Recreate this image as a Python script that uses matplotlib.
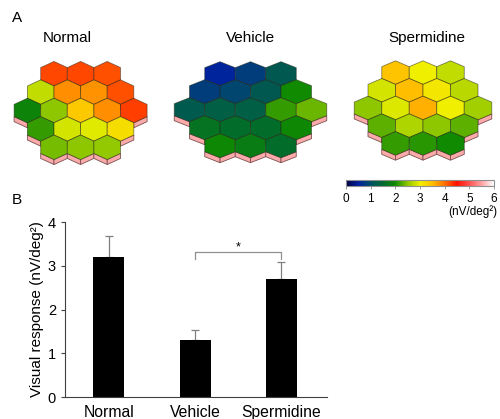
import numpy as np
import matplotlib
matplotlib.use('Agg')
import matplotlib.pyplot as plt
from matplotlib.colors import LinearSegmentedColormap, Normalize
from matplotlib.cm import ScalarMappable
from matplotlib.patches import Polygon

plt.rcParams['font.family'] = ['Liberation Sans', 'DejaVu Sans']

# mfERG response density per hexagon (nV/deg^2), rows top -> bottom
groups = ['Normal', 'Vehicle', 'Spermidine']
hex_normal = [[4.2, 4.2, 4.15],
              [2.75, 3.8, 3.78, 4.15],
              [1.9, 2.5, 3.4, 3.8, 4.25],
              [2.15, 2.85, 2.92, 3.2],
              [2.4, 2.5, 2.52]]
hex_vehicle = [[0.55, 0.8, 1.15],
               [0.8, 0.9, 1.15, 2.0],
               [1.2, 1.3, 1.3, 2.15, 2.35],
               [1.65, 1.55, 1.55, 1.95],
               [1.95, 1.8, 1.55]]
hex_sperm = [[3.45, 3.0, 2.75],
             [2.85, 3.5, 3.1, 2.7],
             [2.5, 2.9, 3.6, 3.0, 2.6],
             [2.3, 2.65, 2.5, 2.3],
             [2.15, 2.1, 2.0]]

# panel B
bar_means = [3.2, 1.3, 2.7]
bar_sem = [0.49, 0.23, 0.38]

cmap = LinearSegmentedColormap.from_list('mferg', [
    (0 / 6, '#000040'), (0.5 / 6, '#0020a0'), (1.0 / 6, '#005060'),
    (1.5 / 6, '#006a30'), (2.0 / 6, '#108a00'), (2.5 / 6, '#90c800'),
    (3.0 / 6, '#f0f000'), (3.5 / 6, '#ffc000'), (4.0 / 6, '#ff7000'),
    (4.5 / 6, '#ff1000'), (5.0 / 6, '#ff5050'), (5.5 / 6, '#ffa0a0'),
    (6 / 6, '#ffffff')])
norm = Normalize(0, 6)

W, H = 500, 419
fig = plt.figure(figsize=(W / 100, H / 100), dpi=100)


def hex_map(values, cx, cy, w, s, depth=5.0):
    # axes in hex units: 1 x-unit = hex width (w px), 1 y-unit = row pitch (s px)
    R, T, B = 3.0, 3.0, 3.4
    ax = fig.add_axes([(cx - R * w) / W, 1 - (cy + B * s) / H,
                       2 * R * w / W, (T + B) * s / H])
    ax.set_xlim(-R, R)
    ax.set_ylim(-B, T)
    ax.axis('off')
    e, h, d = 1 / 3, 2 / 3, depth / s
    for r, row in enumerate(values):
        n = len(row)
        y = 2 - r
        for c, v in enumerate(row):
            x = c - (n - 1) / 2
            for sx in (-0.5, 0.5):
                side = [(x + sx, y - e), (x, y - h), (x, y - h - d), (x + sx, y - e - d)]
                ax.add_patch(Polygon(side, closed=True, fc='#fbaaaa',
                                     ec='#7a5050', lw=0.6))
            top = [(x, y + h), (x + 0.5, y + e), (x + 0.5, y - e),
                   (x, y - h), (x - 0.5, y - e), (x - 0.5, y + e)]
            ax.add_patch(Polygon(top, closed=True, fc=cmap(norm(v)),
                                 ec=(0.15, 0.15, 0.1, 0.55), lw=0.6))
    return ax


hex_map(hex_normal, 80.6, 110.5, 26.6, 18.4)
hex_map(hex_vehicle, 250.5, 109.7, 30.5, 18.0)
hex_map(hex_sperm, 423.0, 108.0, 27.5, 17.7)

for name, x in zip(groups, [67, 250, 427]):
    fig.text(x / W, 1 - 38 / H, name, ha='center', va='center', fontsize=11)
fig.text(12 / W, 1 - 18 / H, 'A', ha='left', va='center', fontsize=11)
fig.text(12 / W, 1 - 200 / H, 'B', ha='left', va='center', fontsize=11)

# colour bar
cax = fig.add_axes([346 / W, 1 - 186 / H, 148 / W, 6 / H])
cb = fig.colorbar(ScalarMappable(norm=norm, cmap=cmap), cax=cax,
                  orientation='horizontal', ticks=range(7))
cb.outline.set_edgecolor('#909090')
cb.outline.set_linewidth(0.8)
cax.tick_params(labelsize=8.5, length=2, width=0.6, color='#909090', pad=3)
fig.text(497 / W, 1 - 212 / H, '(nV/deg²)', ha='right', va='center',
         fontsize=8.5)

# panel B bar chart
ax = fig.add_axes([65 / W, 1 - 397 / H, 262 / W, 175 / H])
xpos = np.arange(len(groups))
ax.bar(xpos, bar_means, width=0.36, color='black', zorder=2)
ax.errorbar(xpos, bar_means, yerr=[np.zeros(3), bar_sem], fmt='none',
            ecolor='#808080', elinewidth=0.9, capsize=3, capthick=0.9, zorder=1)
ax.set_xlim(-0.51, 2.53)
ax.set_ylim(0, 4)
ax.set_yticks(range(5))
ax.set_xticks(xpos)
ax.set_xticklabels(groups, fontsize=11.3)
ax.tick_params(axis='x', length=0, pad=6)
ax.tick_params(axis='y', labelsize=10.5, length=3, width=0.8, color='#404040')
for sp in ['top', 'right']:
    ax.spines[sp].set_visible(False)
for sp in ['left', 'bottom']:
    ax.spines[sp].set_color('#404040')
    ax.spines[sp].set_linewidth(0.8)
ax.set_ylabel('Visual response (nV/deg²)', fontsize=11, labelpad=3)

# significance bracket Vehicle vs Spermidine
ax.plot([1, 1, 2, 2], [3.15, 3.32, 3.32, 3.15], color='#909090', lw=0.9,
        clip_on=False)
ax.text(1.5, 3.42, '*', ha='center', va='center', fontsize=9)

fig.savefig('out.png', dpi=100)
